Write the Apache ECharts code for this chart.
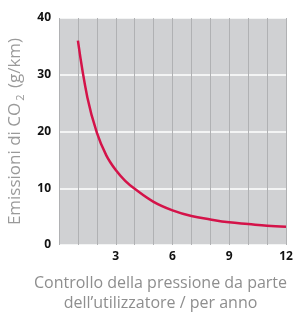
<!DOCTYPE html>
<html><head><meta charset="utf-8">
<script src="https://cdn.jsdelivr.net/npm/echarts@6/dist/echarts.min.js"></script>
<style>html,body{margin:0;padding:0;background:#fff}#c{width:308px;height:314px}</style>
</head><body><div id="c"></div>
<script>
var xValues = [1, 1.5, 2, 2.5, 3, 3.5, 4, 5, 6, 7, 8, 9, 10, 11, 12];
var yValues = [36, 26, 19.8, 15.8, 13.2, 11.3, 9.9, 7.6, 6.1, 5.1, 4.5, 4.0, 3.7, 3.4, 3.2];
var xTickLabels = [3, 6, 9, 12];
var yTicks = [0, 10, 20, 30, 40];
var yTitle = 'Emissioni di CO';
var xTitle = 'Controllo della pressione da parte\ndell\u2019utilizzatore / per anno';

var data = xValues.map(function (x, i) { return [x, yValues[i]]; });
var chart = echarts.init(document.getElementById('c'), null, {renderer: 'canvas'});
chart.setOption({
  animation: false,
  grid: {left: 59, right: 22, top: 18, bottom: 69, show: true, backgroundColor: '#d0d1d3', borderWidth: 0,
         containLabel: false, outerBoundsMode: 'none'},
  xAxis: {
    type: 'value', min: 0, max: 12, interval: 1,
    axisLine: {show: false}, axisTick: {show: false},
    splitLine: {show: true, lineStyle: {color: '#b0b1b3', width: 1}},
    axisLabel: {
      margin: 6, color: '#111', fontWeight: 'bold', fontSize: 12, fontFamily: 'Open Sans',
      formatter: function (v) { return xTickLabels.indexOf(v) >= 0 ? String(v) : ''; }
    },
    name: xTitle, nameLocation: 'middle', nameGap: 28,
    nameTextStyle: {color: '#8e8e8e', fontSize: 16, fontFamily: 'Open Sans', lineHeight: 20, padding: [0, 24, 0, 0], verticalAlign: 'top'}
  },
  yAxis: {
    type: 'value', min: 0, max: 40, interval: 10,
    axisLine: {show: false}, axisTick: {show: false},
    splitLine: {show: true, lineStyle: {color: '#ffffff', width: 1.5}},
    axisLabel: {
      margin: 8, color: '#111', fontWeight: 'bold', fontSize: 12, fontFamily: 'Open Sans',
      formatter: function (v) { return yTicks.indexOf(v) >= 0 ? String(v) : ''; }
    },
    name: '{a|' + yTitle + '}{s|2}{a| (g/km)}', nameLocation: 'middle', nameGap: 21, nameRotate: 90,
    nameTextStyle: {
      rich: {
        a: {color: '#9a9a9a', fontSize: 17, fontFamily: 'Open Sans', lineHeight: 22},
        s: {color: '#9a9a9a', fontSize: 11, fontFamily: 'Open Sans', verticalAlign: 'bottom', lineHeight: 14, padding: [7, 2, 0, 2]}
      }
    }
  },
  series: [{
    type: 'line', data: data, smooth: 0.4, showSymbol: false,
    lineStyle: {color: '#d41349', width: 2.5}, z: 5
  }]
});
</script></body></html>
